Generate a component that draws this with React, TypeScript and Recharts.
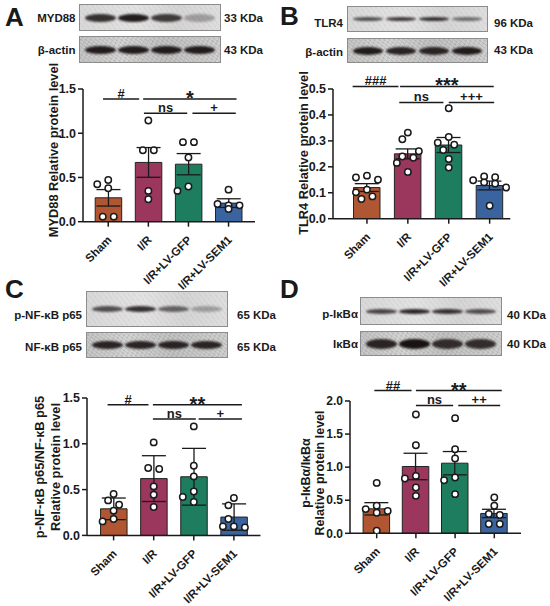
import React from 'react'
import { ComposedChart, Bar, Cell, ErrorBar, Scatter, XAxis, YAxis, ReferenceLine } from 'recharts'

const FONT = "'Liberation Sans', Arial, Helvetica, sans-serif"
const INK = '#1a1a1a'

const groups = ['Sham', 'I/R', 'I/R+LV-GFP', 'I/R+LV-SEM1']
const barColors = ['#B05632', '#9B365D', '#1E7D5F', '#3A64A0']

// A: MYD88 (mean ± SEM)
const meansA = [0.27, 0.67, 0.65, 0.21]
const errsA = [0.093, 0.168, 0.12, 0.049]
const pointsA = [
  [0.472, 0.423, 0.378, 0.057, 0.057],
  [1.144, 0.808, 0.808, 0.348, 0.254],
  [0.899, 0.899, 0.725, 0.397, 0.348],
  [0.362, 0.2, 0.185, 0.185, 0.144],
]
const ticksA = [0, 0.5, 1, 1.5]
const sigA = [
  { text: '#', from: -0.13, to: 0.77, y: 1.386 },
  { text: '*', from: 0.87, to: 3.2, y: 1.386 },
  { text: 'ns', from: 0.89, to: 1.97, y: 1.227 },
  { text: '+', from: 2.1, to: 3.18, y: 1.227 },
]

// B: TLR4
const meansB = [0.12, 0.25, 0.284, 0.128]
const errsB = [0.015, 0.019, 0.029, 0.017]
const pointsB = [
  [0.166, 0.159, 0.15, 0.112, 0.1015, 0.086, 0.076],
  [0.332, 0.306, 0.26, 0.24, 0.235, 0.215, 0.18],
  [0.426, 0.315, 0.293, 0.285, 0.265, 0.23, 0.197],
  [0.163, 0.16, 0.148, 0.14, 0.135, 0.12, 0.05],
]
const ticksB = [0, 0.1, 0.2, 0.3, 0.4, 0.5]
const sigB = [
  { text: '###', from: -0.35, to: 0.77, y: 0.51 },
  { text: '***', from: 0.81, to: 3.1, y: 0.51 },
  { text: 'ns', from: 0.79, to: 1.87, y: 0.448 },
  { text: '+++', from: 2.0, to: 3.11, y: 0.448 },
]

// C: p-NF-κB p65 / NF-κB p65 (mean ± SD)
const meansC = [0.29, 0.62, 0.64, 0.2]
const errsC = [0.118, 0.25, 0.31, 0.144]
const pointsC = [
  [0.452, 0.382, 0.335, 0.27, 0.179, 0.153],
  [1.015, 0.736, 0.725, 0.535, 0.444, 0.31],
  [1.19, 0.761, 0.644, 0.48, 0.419, 0.365],
  [0.408, 0.328, 0.179, 0.098, 0.098, 0.087],
]
const ticksC = [0, 0.5, 1, 1.5]
const sigC = [
  { text: '#', from: -0.15, to: 0.87, y: 1.427 },
  { text: '**', from: 0.98, to: 3.2, y: 1.427 },
  { text: 'ns', from: 0.98, to: 2.05, y: 1.271 },
  { text: '+', from: 2.12, to: 3.2, y: 1.271 },
]

// D: p-IκBα / IκBα
const meansD = [0.37, 1.01, 1.06, 0.3]
const errsD = [0.093, 0.2, 0.176, 0.063]
const pointsD = [
  [0.762, 0.416, 0.366, 0.336, 0.31, 0.04],
  [1.797, 1.33, 0.868, 0.828, 0.693, 0.566],
  [1.741, 1.27, 1.13, 0.843, 0.803, 0.592],
  [0.542, 0.416, 0.291, 0.276, 0.14, 0.14],
]
const ticksD = [0, 0.5, 1, 1.5, 2]
const sigD = [
  { text: '##', from: -0.06, to: 0.89, y: 2.158 },
  { text: '**', from: 1.0, to: 3.19, y: 2.158 },
  { text: 'ns', from: 1.0, to: 1.95, y: 1.932 },
  { text: '++', from: 2.08, to: 3.15, y: 1.932 },
]

const AXIS_W = 40
const TOP = 40
const RIGHT = 6
const XH = 100
const axisStyle = { stroke: INK, strokeWidth: 1.5 }

// horizontal dodge so circles in a column don't sit on top of each other
function dodge(vals: number[], ppv: number) {
  const thr = 8
  const step = 5.5
  const cand = [0, -step, step, -2 * step, 2 * step, -3 * step, 3 * step]
  const order = vals.map((_, i) => i).sort((a, b) => vals[b] - vals[a])
  const dx: (number | null)[] = vals.map(() => null)
  const placed: { dx: number; py: number }[] = []
  // rows of (nearly) equal values side by side
  const used = new Set<number>()
  order.forEach((i) => {
    if (used.has(i)) return
    const row = order.filter((j) => !used.has(j) && Math.abs(vals[j] - vals[i]) * ppv < 1.5)
    if (row.length > 1) {
      row.forEach((j, k) => {
        used.add(j)
        dx[j] = (k - (row.length - 1) / 2) * 11
        placed.push({ dx: dx[j] as number, py: vals[j] * ppv })
      })
    }
  })
  order.forEach((i) => {
    if (dx[i] !== null) return
    const py = vals[i] * ppv
    const c = cand.find((o) => placed.every((q) => Math.hypot(q.dx - o, q.py - py) >= thr)) ?? 0
    dx[i] = c
    placed.push({ dx: c, py })
  })
  return dx as number[]
}

function GroupTick(props: any) {
  const { x, y, payload } = props
  return (
    <g transform={`translate(${x + 4},${y + 12})`}>
      <text textAnchor="end" transform="rotate(-45)" fontSize={11.6} fontWeight={700} fill={INK} fontFamily={FONT}>
        {payload.value}
      </text>
    </g>
  )
}

function OpenDot(props: any) {
  const { cx, cy } = props
  return <circle cx={cx} cy={cy} r={3.2} fill="#fff" stroke={INK} strokeWidth={1.5} />
}

type Sig = { text: string; from: number; to: number; y: number }
type PanelProps = {
  x0: number
  x1: number
  yTop: number
  yBot: number
  max: number
  ticks: number[]
  means: number[]
  errs: number[]
  points: number[][]
  sigs: Sig[]
  padL: number
  padR: number
  tickSize?: number
}

function Panel(p: PanelProps) {
  const plotW = p.x1 - p.x0
  const plotH = p.yBot - p.yTop
  const band = (plotW - p.padL - p.padR) / 4
  const ppv = plotH / p.max
  const data = groups.map((g, i) => ({ name: g, mean: p.means[i], err: p.errs[i] }))
  const dots = p.points.flatMap((vals, gi) => {
    const dx = dodge(vals, ppv)
    return vals.map((v, k) => ({ x: gi + dx[k] / band, y: v }))
  })
  return (
    <div style={{ position: 'absolute', left: p.x0 - AXIS_W, top: p.yTop - TOP }}>
      <ComposedChart
        width={AXIS_W + plotW + RIGHT}
        height={TOP + plotH + XH}
        data={data}
        margin={{ top: TOP, right: RIGHT, left: 0, bottom: 0 }}
      >
        <XAxis
          dataKey="name"
          type="category"
          interval={0}
          padding={{ left: p.padL, right: p.padR }}
          height={XH}
          tick={<GroupTick />}
          tickSize={5}
          axisLine={axisStyle}
          tickLine={axisStyle}
        />
        <XAxis
          xAxisId="n"
          dataKey="x"
          type="number"
          domain={[-0.5, 3.5]}
          padding={{ left: p.padL, right: p.padR }}
          allowDataOverflow
          hide
        />
        <YAxis
          width={AXIS_W}
          domain={[0, p.max]}
          ticks={p.ticks}
          tickFormatter={(v: number) => v.toFixed(1)}
          tick={{ fontSize: p.tickSize ?? 12.5, fontWeight: 700, fill: INK, fontFamily: FONT }}
          tickSize={5}
          tickMargin={2}
          axisLine={axisStyle}
          tickLine={axisStyle}
          allowDataOverflow
        />
        <Bar dataKey="mean" barSize={26.5} stroke="#222" strokeWidth={1} isAnimationActive={false}>
          {data.map((d, i) => (
            <Cell key={d.name} fill={barColors[i]} />
          ))}
          <ErrorBar dataKey="err" width={12} stroke={INK} strokeWidth={1.3} isAnimationActive={false} />
        </Bar>
        <Scatter xAxisId="n" data={dots} dataKey="y" shape={<OpenDot />} isAnimationActive={false} />
        {p.sigs.map((s) => {
          const star = s.text.includes('*')
          return (
            <ReferenceLine
              key={s.text + s.from}
              xAxisId="n"
              segment={[
                { x: s.from, y: s.y },
                { x: s.to, y: s.y },
              ]}
              stroke={INK}
              strokeWidth={1.5}
              ifOverflow="visible"
              label={{
                value: s.text,
                position: 'top',
                offset: star ? -6 : 1,
                fontSize: star ? 20 : 13,
                fontWeight: 700,
                fill: INK,
                fontFamily: FONT,
              }}
            />
          )
        })}
      </ComposedChart>
    </div>
  )
}

function Blot(props: { x: number; y: number; w: number; h: number; bands: number[]; thick: number; bg: string }) {
  const { x, y, w, h, bands, thick, bg } = props
  return (
    <div
      style={{
        position: 'absolute',
        left: x,
        top: y,
        width: w,
        height: h,
        boxSizing: 'border-box',
        border: '1px solid #8c8c8c',
        background: bg,
        display: 'flex',
        alignItems: 'center',
        justifyContent: 'space-around',
        padding: '0 4px',
        overflow: 'hidden',
      }}
    >
      {bands.map((b, i) => (
        <div
          key={i}
          style={{
            width: '23%',
            height: thick,
            borderRadius: '50%',
            background: `rgba(25,18,18,${b})`,
            filter: 'blur(1.3px)',
          }}
        />
      ))}
    </div>
  )
}

const grain =
  'repeating-linear-gradient(37deg, rgba(0,0,0,0.07) 0 1px, transparent 1px 3px), repeating-linear-gradient(-61deg, rgba(0,0,0,0.06) 0 1px, transparent 1px 4px)'
const noisy = `${grain}, linear-gradient(90deg, #c6c6c6, #d4d4d4 30%, #c2c2c2 60%, #d0d0d0)`
const pale = `repeating-linear-gradient(52deg, rgba(0,0,0,0.04) 0 1px, transparent 1px 4px), linear-gradient(90deg, #d8d8d8, #e2e2e2 40%, #d4d4d4 70%, #dedede)`

function Txt(props: { x: number; y: number; anchor?: 'start' | 'end' | 'middle'; size?: number; children: React.ReactNode }) {
  return (
    <text x={props.x} y={props.y} textAnchor={props.anchor ?? 'start'} fontSize={props.size ?? 11.5} fontWeight={700} fill={INK} fontFamily={FONT}>
      {props.children}
    </text>
  )
}

function VLabel(props: { x: number; y: number; size?: number; children: React.ReactNode }) {
  return (
    <text
      transform={`translate(${props.x},${props.y}) rotate(-90)`}
      textAnchor="middle"
      dominantBaseline="central"
      fontSize={props.size ?? 12.8}
      fontWeight={700}
      fill={INK}
      fontFamily={FONT}
    >
      {props.children}
    </text>
  )
}

export default function App() {
  return (
    <div style={{ position: 'absolute', left: 0, top: 0, width: 550, height: 606, background: '#fff', overflow: 'hidden' }}>
      <Blot x={79} y={4} w={142} h={27} bands={[0.85, 0.95, 0.8, 0.3]} thick={8} bg={pale} />
      <Blot x={79} y={36} w={142} h={27} bands={[0.95, 0.95, 0.95, 0.95]} thick={8} bg={noisy} />
      <Blot x={347} y={6} w={141} h={26} bands={[0.7, 0.8, 0.85, 0.55]} thick={4} bg={pale} />
      <Blot x={347} y={38} w={141} h={25} bands={[0.95, 0.9, 0.9, 0.95]} thick={8} bg={noisy} />
      <Blot x={86} y={291} w={142} h={36} bands={[0.7, 0.85, 0.6, 0.3]} thick={6} bg={pale} />
      <Blot x={86} y={332} w={142} h={26} bands={[0.9, 0.9, 0.9, 0.9]} thick={8} bg={noisy} />
      <Blot x={360} y={297} w={142} h={28} bands={[0.75, 0.9, 0.85, 0.7]} thick={5} bg={pale} />
      <Blot x={360} y={331} w={142} h={25} bands={[0.9, 1, 0.85, 0.85]} thick={10} bg={noisy} />

      <svg width={550} height={606} style={{ position: 'absolute', left: 0, top: 0 }}>
        <Txt x={5} y={26} size={26}>A</Txt>
        <Txt x={280} y={25} size={26}>B</Txt>
        <Txt x={5} y={298} size={26}>C</Txt>
        <Txt x={280} y={298} size={26}>D</Txt>

        <Txt x={75.5} y={22} anchor="end">MYD88</Txt>
        <Txt x={75.5} y={54} anchor="end">β-actin</Txt>
        <Txt x={224} y={22}>33 KDa</Txt>
        <Txt x={224} y={54}>43 KDa</Txt>

        <Txt x={343} y={27} anchor="end">TLR4</Txt>
        <Txt x={343} y={56} anchor="end">β-actin</Txt>
        <Txt x={494} y={27}>96 KDa</Txt>
        <Txt x={494} y={53.5}>43 KDa</Txt>

        <Txt x={82} y={319} anchor="end">p-NF-κB p65</Txt>
        <Txt x={82} y={351} anchor="end">NF-κB p65</Txt>
        <Txt x={237} y={319}>65 KDa</Txt>
        <Txt x={237} y={351}>65 KDa</Txt>

        <Txt x={358} y={317.5} anchor="end">p-IκBα</Txt>
        <Txt x={358} y={347.5} anchor="end">IκBα</Txt>
        <Txt x={507} y={319}>40 KDa</Txt>
        <Txt x={507} y={347.5}>40 KDa</Txt>

        <VLabel x={53} y={150}>MYD88 Relative protein level</VLabel>
        <VLabel x={303} y={153}>TLR4 Relative protein level</VLabel>
        <VLabel x={39.5} y={467}>p-NF-κB p65/NF-κB p65</VLabel>
        <VLabel x={55} y={467}>Relative protein level</VLabel>
        <VLabel x={306} y={473} size={12.5}>p-IκBα/IκBα</VLabel>
        <VLabel x={320} y={473} size={12.5}>Relative protein level</VLabel>
      </svg>

      <Panel x0={83} x1={255} yTop={89} yBot={221.7} max={1.5} ticks={ticksA} means={meansA} errs={errsA} points={pointsA} sigs={sigA} padL={5.2} padR={6.4} />
      <Panel x0={332.7} x1={510} yTop={89} yBot={218.7} max={0.5} ticks={ticksB} means={meansB} errs={errsB} points={pointsB} sigs={sigB} padL={13.5} padR={0.2} />
      <Panel x0={86.7} x1={260.2} yTop={398.3} yBot={535.7} max={1.5} ticks={ticksC} means={meansC} errs={errsC} points={pointsC} sigs={sigC} padL={6.55} padR={6.55} />
      <Panel x0={350} x1={521} yTop={401} yBot={533.3} max={2} ticks={ticksD} means={meansD} errs={errsD} points={pointsD} sigs={sigD} padL={7.1} padR={7.1} tickSize={12} />
    </div>
  )
}
